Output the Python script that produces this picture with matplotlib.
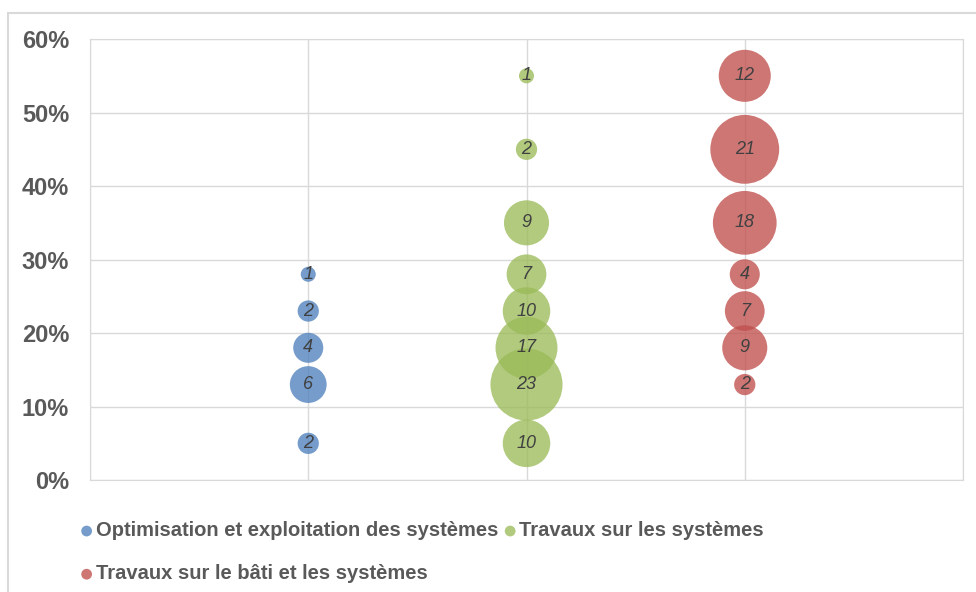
import matplotlib.pyplot as plt
from matplotlib.patches import Rectangle
from matplotlib.ticker import PercentFormatter

# Series: x position, y share, bubble value (count)
opt_x = [1, 1, 1, 1, 1]
opt_y = [0.28, 0.23, 0.18, 0.13, 0.05]
opt_n = [1, 2, 4, 6, 2]

sys_x = [2, 2, 2, 2, 2, 2, 2, 2]
sys_y = [0.55, 0.45, 0.35, 0.28, 0.23, 0.18, 0.13, 0.05]
sys_n = [1, 2, 9, 7, 10, 17, 23, 10]

bati_x = [3, 3, 3, 3, 3, 3, 3]
bati_y = [0.55, 0.45, 0.35, 0.28, 0.23, 0.18, 0.13]
bati_n = [12, 21, 18, 4, 7, 9, 2]

labels = ['Optimisation et exploitation des systèmes',
          'Travaux sur les systèmes',
          'Travaux sur le bâti et les systèmes']
colors = ['#4f81bd', '#9bbb59', '#c0504d']

plt.rcParams['font.family'] = ['Liberation Sans', 'DejaVu Sans']

fig = plt.figure(figsize=(9.76, 5.92), dpi=100)
ax = fig.add_axes([0.0922, 0.189, 0.8945, 0.745])

# bubble area proportional to value, like Excel
scale = 117
series = [(opt_x, opt_y, opt_n), (sys_x, sys_y, sys_n), (bati_x, bati_y, bati_n)]
handles = []
for (xs, ys, ns), c, lab in zip(series, colors, labels):
    h = ax.scatter(xs, ys, s=[scale * n for n in ns], color=c, alpha=0.78,
                   edgecolors='none', label=lab, zorder=3)
    handles.append(h)
    for x, y, n in zip(xs, ys, ns):
        ax.text(x, y, str(n), ha='center', va='center', fontsize=13,
                style='italic', color='#404040', zorder=4)

ax.set_xlim(0, 4)
ax.set_ylim(0, 0.6)
ax.set_xticks([0, 1, 2, 3, 4])
ax.set_yticks([0, 0.1, 0.2, 0.3, 0.4, 0.5, 0.6])
ax.yaxis.set_major_formatter(PercentFormatter(1.0, decimals=0))
ax.tick_params(axis='x', length=0, labelbottom=False)
ax.tick_params(axis='y', length=0, labelsize=17, labelcolor='#595959', pad=15)
for t in ax.get_yticklabels():
    t.set_fontweight('bold')
ax.grid(True, color='#d9d9d9', linewidth=1)
ax.set_axisbelow(True)
for sp in ax.spines.values():
    sp.set_color('#d9d9d9')

# legend: order so that the third item wraps to the second row
leg = fig.legend([handles[0], handles[2], handles[1]],
                 [labels[0], labels[2], labels[1]],
                 ncol=2, loc='upper left', bbox_to_anchor=(0.064, 0.150),
                 frameon=False, fontsize=14.5, labelcolor='#595959',
                 handletextpad=0.15, columnspacing=0.3, labelspacing=1.2,
                 handlelength=0.6, markerscale=1)
for t in leg.get_texts():
    t.set_fontweight('bold')
for h in leg.legend_handles:
    h.set_sizes([60])
    h.set_alpha(0.78)

# outer chart border
fig.patches.append(Rectangle((8 / 976, -0.1), 1.0, 1 - 13 / 592 + 0.1,
                             transform=fig.transFigure, fill=False,
                             edgecolor='#d9d9d9', linewidth=1.5))

fig.savefig('out.png', dpi=100)
